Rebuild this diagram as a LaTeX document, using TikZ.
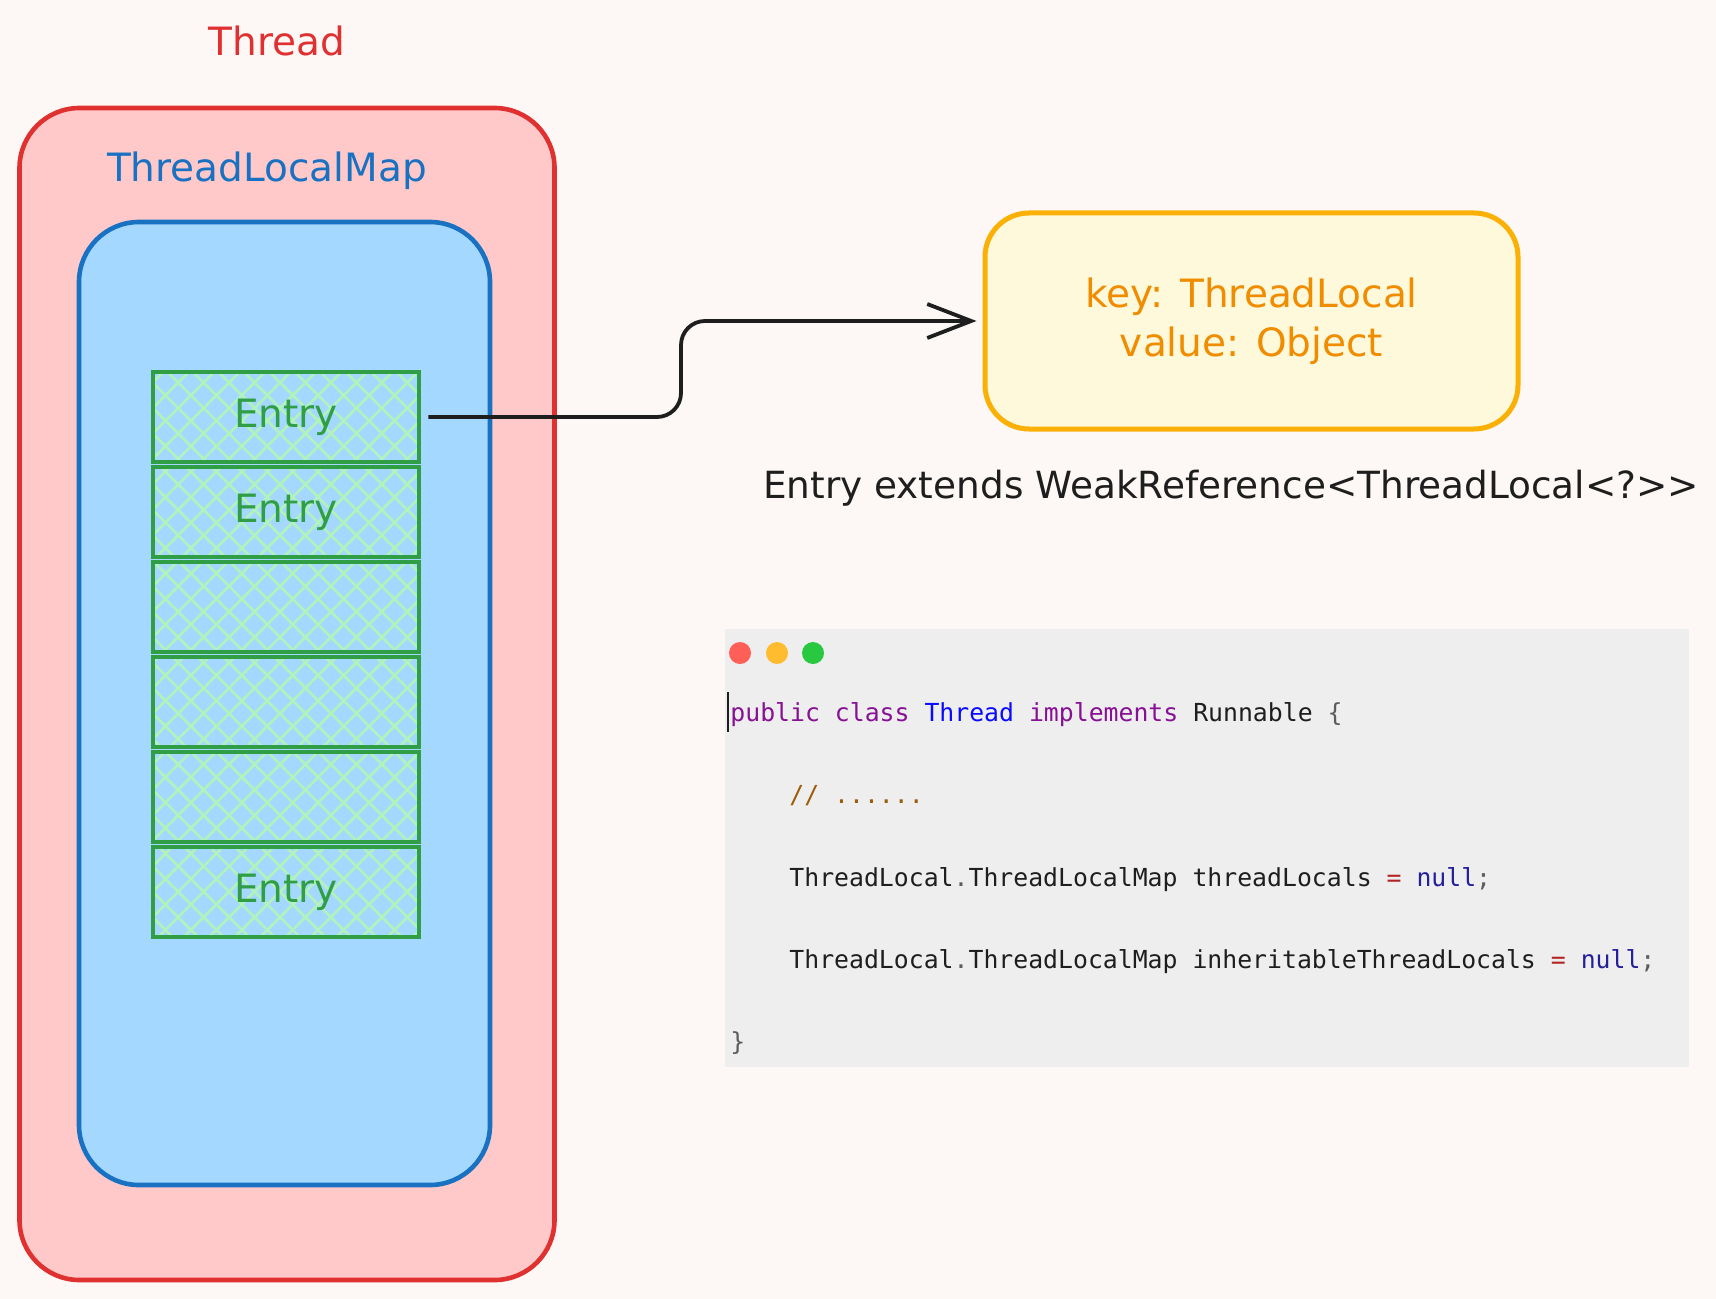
\documentclass[tikz,border=0pt]{standalone}
\usepackage{fontspec}
\usetikzlibrary{positioning, arrows.meta, patterns.meta}
\newfontfamily\handfont{DejaVu Sans}
\newfontfamily\codefont{DejaVu Sans Mono}
\definecolor{paper}{HTML}{FDF8F5}
\definecolor{threadred}{HTML}{E03131}
\definecolor{threadpink}{HTML}{FFC9C9}
\definecolor{mapblue}{HTML}{1971C2}
\definecolor{mapfill}{HTML}{A5D8FF}
\definecolor{entrygreen}{HTML}{2F9E44}
\definecolor{hatchgreen}{HTML}{B2F2BB}
\definecolor{kvstroke}{HTML}{FAB005}
\definecolor{kvfill}{HTML}{FFF9DB}
\definecolor{kvtext}{HTML}{F08C00}
\definecolor{ink}{HTML}{1E1E1E}
\definecolor{codegrey}{HTML}{EEEEEE}
\definecolor{kw}{HTML}{871094}
\definecolor{typeblue}{HTML}{0A0AFF}
\definecolor{punct}{HTML}{5C5C5C}
\definecolor{comment}{HTML}{9C5D0A}
\definecolor{eqred}{HTML}{B22222}
\definecolor{nullblue}{HTML}{24209C}
\definecolor{macred}{HTML}{FE5F57}
\definecolor{macyellow}{HTML}{FEBC2E}
\definecolor{macgreen}{HTML}{28C840}
\tikzset{
  lbl/.style={font=\handfont\fontsize{19.5}{24.5}\selectfont, inner sep=0pt},
  threadbox/.style={draw=threadred, fill=threadpink, line width=2.3pt, rounded corners=30pt,
    minimum width=267.5pt, minimum height=586pt},
  mapbox/.style={draw=mapblue, fill=mapfill, line width=2.3pt, rounded corners=30pt,
    minimum width=205.5pt, minimum height=481.5pt},
  entry/.style={draw=entrygreen, line width=2.4pt, text=entrygreen,
    pattern={Hatch[angle=45,distance=9pt,line width=1.3pt]}, pattern color=hatchgreen,
    minimum width=133pt, minimum height=45pt, inner sep=0pt,
    font=\handfont\fontsize{19.5}{24.5}\selectfont},
  kvbox/.style={draw=kvstroke, fill=kvfill, line width=2.5pt, rounded corners=22pt,
    minimum width=266.5pt, minimum height=108pt, text=kvtext, align=center,
    font=\handfont\fontsize{19.5}{24.5}\selectfont},
  codebox/.style={fill=codegrey, minimum width=482pt, minimum height=219pt, inner sep=0pt},
  macdot/.style={circle, minimum size=11pt, inner sep=0pt},
  code/.style={font=\codefont\fontsize{12.4}{15}\selectfont, anchor=base west, inner sep=0pt, text=ink},
  link/.style={->, draw=ink, line width=1.9pt, rounded corners=12pt, shorten <=4pt, shorten >=3pt},
}

\begin{document}
\begin{tikzpicture}[x=0.5pt, y=-0.5pt, node distance=47.5pt, >={Straight Barb[length=22pt,width=17pt]}]
  \fill[paper] (0,0) rectangle (1716,1299);
  \useasboundingbox (0,0) rectangle (1716,1299);

  % thread and its map
  \node [threadbox] (thread) at (287,694) {};
  \node [lbl, text=threadred, anchor=base] (threadlbl) at (277,56) {Thread};
  \node [lbl, text=mapblue, anchor=base] (maplbl) at (267,182) {ThreadLocalMap};
  \node [mapbox] (map) at (284.5,703.5) {};

  % entry table
  \node [entry] (e1) at (286,417) {Entry};
  \node [entry] (e2) [below of=e1] {Entry};
  \node [entry] (e3) [below of=e2] {};
  \node [entry] (e4) [below of=e3] {};
  \node [entry] (e5) [below of=e4] {};
  \node [entry] (e6) [below of=e5] {Entry};

  % key / value
  \node [kvbox] (kv) at (1251.5,321) {key: ThreadLocal\\value: Object};
  \node [lbl, text=ink, anchor=base, font=\handfont\fontsize{18.7}{22}\selectfont] (weak) at (1231,498)
    {Entry extends WeakReference<ThreadLocal<?>{}>};
  \coordinate (bend) at (681,417);
  \draw [link] (e1.east) -- (bend) |- (kv.west);

  % code window
  \node [codebox] (code) at (1207,848) {};
  \node [macdot, fill=macred] (dotr) at (740,653) {};
  \node [macdot, fill=macyellow] (doty) at (777,653) {};
  \node [macdot, fill=macgreen] (dotg) at (813,653) {};
  \coordinate (caret) at (728,692);
  \draw [ink, line width=0.8pt] (caret) -- ++(0,40);
  \node [code] (l1) at (730,721) {\textcolor{kw}{public class} \textcolor{typeblue}{Thread} \textcolor{kw}{implements} Runnable \textcolor{punct}{\{}};
  \node [code] (l2) at (789,803) {\textcolor{comment}{// ......}};
  \node [code] (l3) at (789,886) {ThreadLocal\textcolor{punct}{.}ThreadLocalMap threadLocals \textcolor{eqred}{=} \textcolor{nullblue}{null}\textcolor{punct}{;}};
  \node [code] (l4) at (789,968) {ThreadLocal\textcolor{punct}{.}ThreadLocalMap inheritableThreadLocals \textcolor{eqred}{=} \textcolor{nullblue}{null}\textcolor{punct}{;}};
  \node [code] (l5) at (730,1050) {\textcolor{punct}{\}}};
\end{tikzpicture}
\end{document}
